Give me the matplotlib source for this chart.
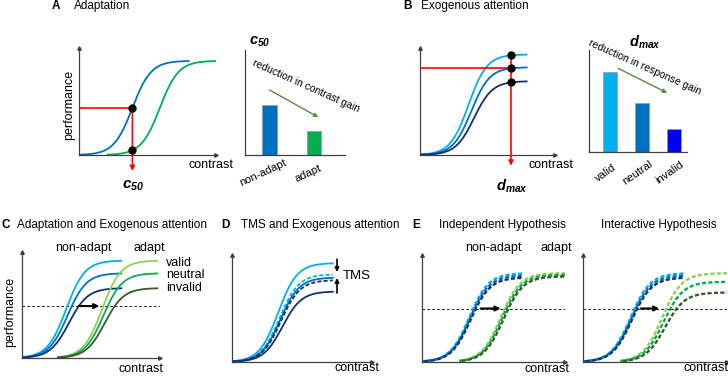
import numpy as np
import matplotlib
matplotlib.use("Agg")
import matplotlib.pyplot as plt

plt.rcParams.update({
    "font.family": "Liberation Sans",
    "mathtext.fontset": "custom",
    "mathtext.rm": "Liberation Sans",
    "mathtext.it": "Liberation Sans:italic",
    "mathtext.bf": "Liberation Sans:bold",
    "mathtext.bfit": "Liberation Sans:bold:italic",
    "lines.scale_dashes": False,
})

W, H = 728, 377

LBLUE, MBLUE, DBLUE = "#00B0F0", "#0070C0", "#14306B"
LGREEN, MGREEN, DGREEN = "#92D050", "#00B050", "#3B5A2A"
RED = "#FF0000"
ARROW_GREEN = "#5A8A3A"
AXC = "#404040"

# --- schematic parameters (contrast / performance in 0..1) ---
# A: adaptation
a_c50 = [0.39, 0.59]            # non-adapt, adapt
a_dmax = [0.88, 0.88]
a_xrange = [(0.0, 0.80), (0.21, 1.0)]
a_bar_labels = ["non-adapt", "adapt"]
a_bar_vals = [0.48, 0.23]

# B: exogenous attention
b_c50 = [0.36, 0.38, 0.40]      # valid, neutral, invalid
b_dmax = [0.94, 0.82, 0.69]
b_xmax = 0.79
b_probe = 0.674
b_bar_labels = ["valid", "neutral", "invalid"]
b_bar_vals = [0.78, 0.48, 0.225]

# C: adaptation x attention
c_c50_non = [0.32, 0.33, 0.34]
c_c50_ad = [0.58, 0.59, 0.60]
c_dmax = [0.92, 0.80, 0.66]
c_xrange = [(0.0, 0.72), (0.26, 0.98)]
c_thresh = 0.49
c_cond = ["valid", "neutral", "invalid"]

# D: TMS x attention
d_c50 = [0.33, 0.34, 0.345, 0.35, 0.36]
d_dmax = [0.925, 0.82, 0.79, 0.766, 0.66]
d_xmax = 0.72

# E: hypotheses
e_c50_non = [0.33, 0.335, 0.34]
e_c50_ad = [0.55, 0.56, 0.57]
ind_dmax_non = [0.83, 0.81, 0.79]
ind_dmax_ad = [0.83, 0.815, 0.80]
int_dmax_non = [0.83, 0.81, 0.79]
int_dmax_ad = [0.83, 0.75, 0.65]
e_xrange = [(0.0, 0.70), (0.26, 1.0)]
e_thresh = 0.50


def sig(x, c50, dmax, s=0.068):
    return dmax / (1 + np.exp(-(x - c50) / s))


fig = plt.figure(figsize=(W / 100, H / 100), dpi=100)


def px_ax(l, t, r, b):
    ax = fig.add_axes([l / W, 1 - b / H, (r - l) / W, (b - t) / H])
    ax.patch.set_alpha(0)
    for sp in ["top", "right"]:
        ax.spines[sp].set_visible(False)
    for sp in ["left", "bottom"]:
        ax.spines[sp].set_color(AXC)
        ax.spines[sp].set_linewidth(0.9)
    ax.set_xticks([])
    ax.set_yticks([])
    ax.set_ylim(0, 1)
    return ax


def curve_ax(l, t, r, b):
    ax = px_ax(l, t, r, b)
    ax.set_xlim(0, 1)
    ax.plot(1, 0, ">", color=AXC, ms=2.5, transform=ax.transAxes, clip_on=False)
    ax.plot(0, 1, "^", color=AXC, ms=2.5, transform=ax.transAxes, clip_on=False)
    return ax


def ftext(x, y, s, **kw):
    kw.setdefault("ha", "center")
    kw.setdefault("va", "center")
    fig.text(x / W, 1 - y / H, s, **kw)


def title(x_letter, x_text, y, letter, s):
    ftext(x_letter, y, letter, fontsize=8.5, fontweight="bold", ha="left")
    ftext(x_text, y, s, fontsize=8.5, ha="left")


def draw(ax, xr, c50, dmax, color, lw=1.3, **kw):
    x = np.linspace(xr[0], xr[1], 200)
    return ax.plot(x, sig(x, c50, dmax), color=color, lw=lw, **kw)[0]


def arrow(ax, start, end, color="black", lw=1.2, ms=6):
    ax.annotate("", xy=end, xytext=start, annotation_clip=False,
                arrowprops=dict(arrowstyle="-|>", color=color, lw=lw, mutation_scale=ms,
                                shrinkA=0, shrinkB=0))


# ---------------- A ----------------
title(52, 74, 6, "A", "Adaptation")
axA = curve_ax(79, 48, 216, 155)
draw(axA, a_xrange[0], a_c50[0], a_dmax[0], MBLUE)
draw(axA, a_xrange[1], a_c50[1], a_dmax[1], MGREEN)
yh = sig(a_c50[0], a_c50[0], a_dmax[0])
yl = sig(a_c50[0], a_c50[1], a_dmax[1])
axA.plot([0, a_c50[0]], [yh, yh], color=RED, lw=1.2, zorder=3)
arrow(axA, (a_c50[0], yh), (a_c50[0], -0.15), color=RED, ms=7)
axA.plot([a_c50[0], a_c50[0]], [yh, yl], "o", color="black", ms=5, zorder=5, clip_on=False)
ftext(69, 105, "performance", rotation=90, fontsize=9)
ftext(211, 165, "contrast", fontsize=9)
ftext(133, 186, r"$\mathbfit{c}_{\mathbfit{50}}$", fontsize=11)

axAb = px_ax(245, 50, 345, 155)
axAb.set_xlim(-0.55, 1.70)
axAb.bar(range(2), a_bar_vals, width=0.32, color=[MBLUE, MGREEN], edgecolor="#9a9a9a", lw=0.5)
for i, lab in enumerate(a_bar_labels):
    axAb.annotate(lab, xy=(i, 0), xycoords=("data", "axes fraction"), xytext=(-4.5, -13),
                  textcoords="offset points", rotation=25, ha="center", va="center", fontsize=8)
arrow(axAb, (0.0, 0.62), (1.1, 0.36), color=ARROW_GREEN, lw=1.0)
ftext(260, 42, r"$\mathbfit{c}_{\mathbfit{50}}$", fontsize=10.5)
ftext(252, 65, "reduction in contrast gain", fontsize=7.5, rotation=-24, ha="left",
      va="baseline", rotation_mode="anchor")

# ---------------- B ----------------
title(403, 421, 6, "B", "Exogenous attention")
axB = curve_ax(420, 48, 555, 155)
for c, d, col in zip(b_c50, b_dmax, [LBLUE, MBLUE, DBLUE]):
    draw(axB, (0, b_xmax), c, d, col)
bvals = [sig(b_probe, c, d) for c, d in zip(b_c50, b_dmax)]
axB.plot([0, b_probe], [bvals[1], bvals[1]], color=RED, lw=1.2, zorder=3)
arrow(axB, (b_probe, bvals[0]), (b_probe, -0.10), color=RED, ms=7)
axB.plot([b_probe] * 3, bvals, "o", color="black", ms=5, zorder=5, clip_on=False)
ftext(551, 165, "contrast", fontsize=9)
ftext(512, 186, r"$\mathbfit{d}_{\mathbfit{max}}$", fontsize=10.5)

axBb = px_ax(589, 50, 687, 152)
axBb.set_xlim(-0.66, 2.4)
axBb.bar(range(3), b_bar_vals, width=0.44, color=[LBLUE, MBLUE, "#0000FF"], edgecolor="#9a9a9a", lw=0.5)
for i, lab in enumerate(b_bar_labels):
    axBb.annotate(lab, xy=(i, 0), xycoords=("data", "axes fraction"), xytext=(-3, -15),
                  textcoords="offset points", rotation=35, ha="center", va="center", fontsize=8)
arrow(axBb, (0.25, 0.82), (1.78, 0.58), color=ARROW_GREEN, lw=1.0)
ftext(645, 42, r"$\mathbfit{d}_{\mathbfit{max}}$", fontsize=10.5)
ftext(588, 45, "reduction in response gain", fontsize=7.5, rotation=-24, ha="left",
      va="baseline", rotation_mode="anchor")

# ---------------- C ----------------
title(1, 17, 225, "C", "Adaptation and Exogenous attention")
axC = curve_ax(22, 252, 160, 358)
for c, d, col in zip(c_c50_non, c_dmax, [LBLUE, MBLUE, DBLUE]):
    draw(axC, c_xrange[0], c, d, col)
for c, d, col in zip(c_c50_ad, c_dmax, [LGREEN, MGREEN, DGREEN]):
    draw(axC, c_xrange[1], c, d, col)
axC.axhline(c_thresh, color="black", lw=0.6, dashes=(2, 1.5), zorder=1)
arrow(axC, (0.41, c_thresh), (0.56, c_thresh), lw=1.5, ms=7)
ftext(83, 248, "non-adapt", fontsize=9)
ftext(149, 248, "adapt", fontsize=9)
for lab, y in zip(c_cond, [263, 275, 288]):
    ftext(166, y, lab, fontsize=9, ha="left")
ftext(10, 312, "performance", rotation=90, fontsize=9)
ftext(141, 369, "contrast", fontsize=9)

# ---------------- D ----------------
title(221, 241, 225, "D", "TMS and Exogenous attention")
axD = curve_ax(232, 255, 372, 362)
d_colors = [LBLUE, LBLUE, MBLUE, DBLUE, DBLUE]
d_dashed = [False, True, False, True, False]
for c, d, col, dashed in zip(d_c50, d_dmax, d_colors, d_dashed):
    if dashed:
        draw(axD, (0, d_xmax), c, d, col, dashes=(3, 1.5))
    else:
        draw(axD, (0, d_xmax), c, d, col)
arrow(axD, (0.75, 0.96), (0.75, 0.84))
arrow(axD, (0.75, 0.645), (0.75, 0.785))
ftext(343, 276, "TMS", fontsize=9.5, ha="left")
ftext(357, 368, "contrast", fontsize=9)

# ---------------- E ----------------
title(412, 439, 225, "E", "Independent Hypothesis")
ftext(659, 225, "Interactive Hypothesis", fontsize=8.5)


def hyp_panel(l, r, dmax_non, dmax_ad):
    ax = curve_ax(l, 255, r, 362)
    offs = [0, 1.5, 3]
    for c, d, col, o in zip(e_c50_non, dmax_non, [LBLUE, MBLUE, DBLUE], offs):
        ln = draw(ax, e_xrange[0], c, d, col, lw=1.7)
        ln.set_linestyle((o, (3, 1.6)))
    for c, d, col, o in zip(e_c50_ad, dmax_ad, [LGREEN, MGREEN, DGREEN], offs):
        ln = draw(ax, e_xrange[1], c, d, col, lw=1.7)
        ln.set_linestyle((o, (3, 1.6)))
    ax.axhline(e_thresh, color="black", lw=0.6, dashes=(2, 1.5), zorder=1)
    return ax


axE1 = hyp_panel(422, 565, ind_dmax_non, ind_dmax_ad)
arrow(axE1, (0.41, e_thresh), (0.55, e_thresh), lw=1.5, ms=7)
axE2 = hyp_panel(583, 727, int_dmax_non, int_dmax_ad)
arrow(axE2, (0.40, e_thresh), (0.53, e_thresh), lw=1.5, ms=7)
ftext(493, 248, "non-adapt", fontsize=9)
ftext(556, 248, "adapt", fontsize=9)
ftext(547, 369, "contrast", fontsize=9)
ftext(706, 368, "contrast", fontsize=9)

fig.savefig("out.png", dpi=100)
